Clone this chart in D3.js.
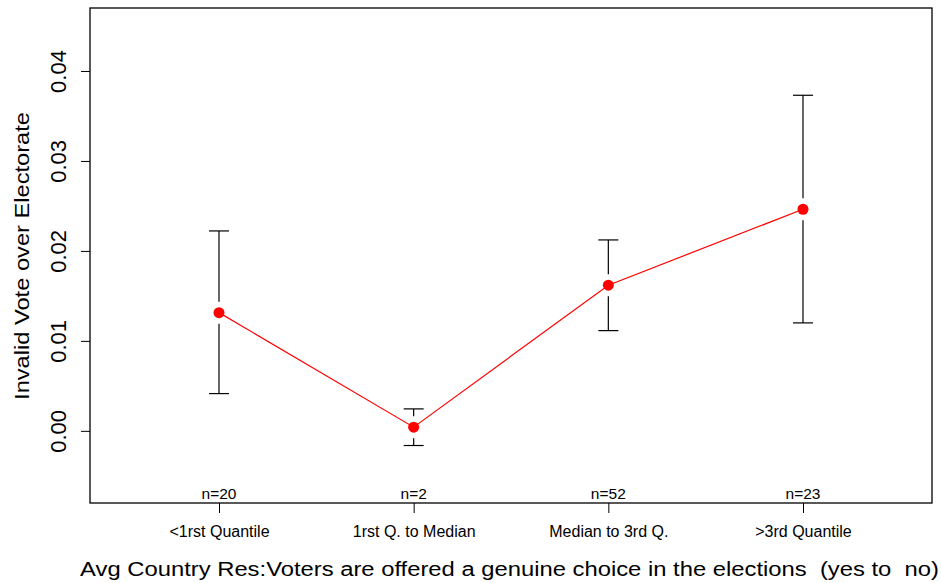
<!DOCTYPE html>
<html>
<head>
<meta charset="utf-8">
<script src="https://cdn.jsdelivr.net/npm/d3@7"></script>
<style>
  body { margin: 0; background: #fff; }
  svg { display: block; font-family: "Liberation Sans", Arial, Helvetica, sans-serif; }
</style>
</head>
<body>
<div id="chart"></div>
<script>
// values
var categories = ["<1rst Quantile", "1rst Q. to Median", "Median to 3rd Q.", ">3rd Quantile"];
var counts = ["n=20", "n=2", "n=52", "n=23"];
var means = [0.01314, 0.00041, 0.01619, 0.02463];
var lower = [0.00414, -0.00163, 0.01114, 0.0120];
var upper = [0.02222, 0.00244, 0.02122, 0.0373];
var yTicks = [0.00, 0.01, 0.02, 0.03, 0.04];

var width = 941, height = 583;
var box = { left: 90, right: 932, top: 8, bottom: 503 };

var svg = d3.select("#chart").append("svg")
    .attr("width", width)
    .attr("height", height);

var x = d3.scaleLinear().domain([0, 3]).range([219, 803]);
var y = d3.scaleLinear().domain([-0.00802, 0.047]).range([box.bottom, box.top]);

// plot frame
svg.append("rect")
    .attr("x", box.left).attr("y", box.top)
    .attr("width", box.right - box.left).attr("height", box.bottom - box.top)
    .attr("fill", "none").attr("stroke", "#000").attr("stroke-width", 1.3);

// y axis, labels rotated like R's default
var yAxis = svg.append("g")
    .attr("transform", "translate(" + box.left + ",0)")
    .call(d3.axisLeft(y).tickValues(yTicks).tickFormat(d3.format(".2f")).tickSize(9).tickPadding(0));
yAxis.select(".domain").remove();
yAxis.selectAll("line").attr("stroke", "#000");
yAxis.selectAll(".tick text")
    .attr("x", null).attr("y", 0).attr("dy", null)
    .attr("transform", "translate(-24,0) rotate(-90)")
    .attr("text-anchor", "middle")
    .attr("font-size", 22)
    .attr("fill", "#000");

// x axis
var xAxis = svg.append("g")
    .attr("transform", "translate(0," + box.bottom + ")")
    .call(d3.axisBottom(x).tickValues([0, 1, 2, 3]).tickFormat(function(i) { return categories[i]; }).tickSize(10));
xAxis.select(".domain").remove();
xAxis.selectAll("line").attr("stroke", "#000");
xAxis.selectAll(".tick text")
    .attr("y", 34).attr("dy", null)
    .attr("font-size", 16).attr("fill", "#000");

// counts just above the bottom border
svg.selectAll("text.count")
    .data(counts)
    .enter().append("text")
    .attr("class", "count")
    .attr("x", function(d, i) { return x(i); })
    .attr("y", box.bottom - 4)
    .attr("text-anchor", "middle")
    .attr("font-size", 15.5)
    .text(function(d) { return d; });

// error bars with a gap around the point
var gap = 11, cap = 10;
var bars = svg.append("g").attr("stroke", "#000").attr("stroke-width", 1.2);
means.forEach(function(m, i) {
    var cx = x(i), cy = y(m);
    if (y(upper[i]) < cy - gap) {
        bars.append("line").attr("x1", cx).attr("x2", cx).attr("y1", y(upper[i])).attr("y2", cy - gap);
    }
    if (y(lower[i]) > cy + gap) {
        bars.append("line").attr("x1", cx).attr("x2", cx).attr("y1", cy + gap).attr("y2", y(lower[i]));
    }
    bars.append("line").attr("x1", cx - cap).attr("x2", cx + cap).attr("y1", y(upper[i])).attr("y2", y(upper[i]));
    bars.append("line").attr("x1", cx - cap).attr("x2", cx + cap).attr("y1", y(lower[i])).attr("y2", y(lower[i]));
});

// mean line and points
var line = d3.line()
    .x(function(d, i) { return x(i); })
    .y(function(d) { return y(d); });

svg.append("path")
    .datum(means)
    .attr("d", line)
    .attr("fill", "none")
    .attr("stroke", "#ff0000")
    .attr("stroke-width", 1.2);

svg.selectAll("circle.pt")
    .data(means)
    .enter().append("circle")
    .attr("class", "pt")
    .attr("cx", function(d, i) { return x(i); })
    .attr("cy", function(d) { return y(d); })
    .attr("r", 5.5)
    .attr("fill", "#ff0000");

// axis titles, stretched a bit to the wider look of the original font
function stretched(g, txt, len) {
    var t = g.append("text")
        .attr("font-size", 21)
        .attr("text-anchor", "middle")
        .style("white-space", "pre")
        .text(txt);
    var w = t.node().getComputedTextLength();
    t.attr("transform", "scale(" + (len / w) + ",1)");
    return t;
}

var xt = svg.append("g").attr("transform", "translate(509.5,576)");
stretched(xt, "Avg Country Res:Voters are offered a genuine choice in the elections  (yes to  no)", 859);

var yt = svg.append("g").attr("transform", "translate(29,256) rotate(-90)");
stretched(yt, "Invalid Vote over Electorate", 288);
</script>
</body>
</html>
